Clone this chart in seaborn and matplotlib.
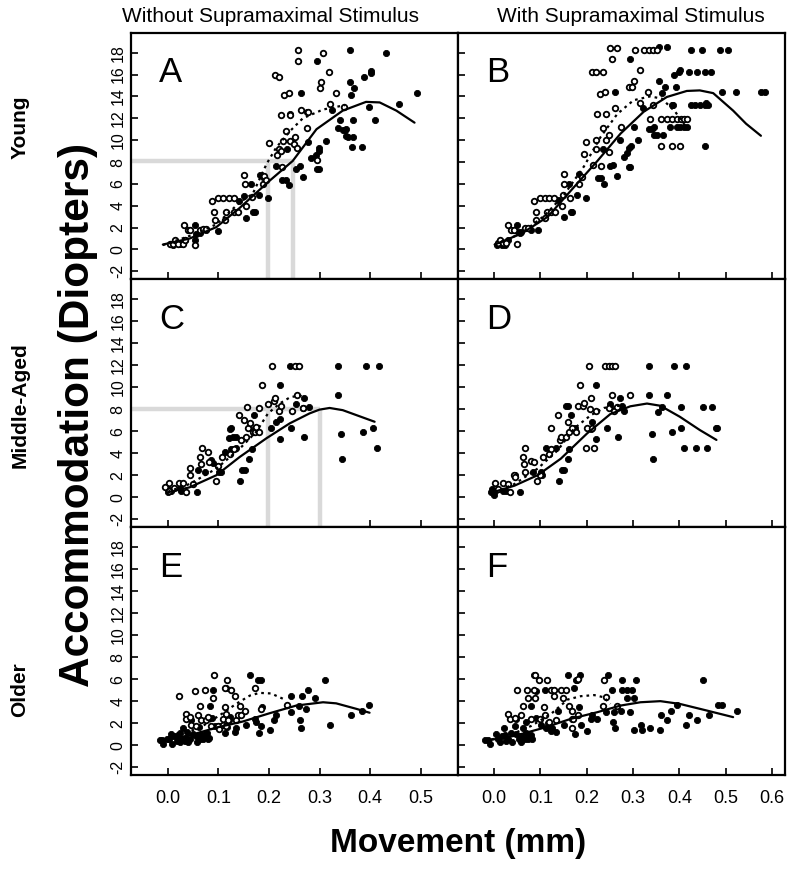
import matplotlib
matplotlib.use("Agg")
import matplotlib.pyplot as plt
import seaborn as sns
import pandas as pd

# ---------------- data ----------------
A_open = [(0.005,0.5),(0.01,0.5),(0.015,0.9),(0.02,0.5),(0.03,0.5),(0.034,0.85),(0.032,2.2),(0.04,1.75),(0.043,1.75),(0.053,0.45),(0.063,1.75),(0.069,1.9),(0.076,1.9),(0.087,4.4),(0.092,3.4),(0.094,2.7),(0.100,4.7),(0.109,4.7),(0.121,4.7),(0.130,4.7),(0.112,2.7),(0.115,3.4),(0.130,3.4),(0.139,3.4),(0.150,6.8),(0.152,6.0),(0.155,4.0),(0.166,4.8),(0.188,6.0),(0.201,9.7),(0.191,6.7),(0.195,6.4),(0.212,16.0),(0.219,15.8),(0.230,14.1),(0.239,14.3),(0.224,12.3),(0.234,10.8),(0.241,12.3),(0.228,9.9),(0.220,9.15),(0.216,8.64),(0.224,9.0),(0.226,7.5),(0.241,9.9),(0.249,9.67),(0.252,10.27),(0.255,9.3),(0.264,12.8),(0.278,12.6),(0.257,18.2),(0.257,17.25),(0.296,8.16),(0.307,18.0),(0.300,14.8),(0.302,15.3),(0.318,16.2),(0.333,14.3),(0.320,13.3),(0.348,13.05),(0.275,11.1)]
A_fill = [(0.01,0.4),(0.024,0.54),(0.034,0.9),(0.054,2.2),(0.056,1.45),(0.053,0.9),(0.063,1.5),(0.076,1.75),(0.099,1.66),(0.14,4.47),(0.15,4.9),(0.154,2.9),(0.165,6.0),(0.168,3.4),(0.172,3.4),(0.181,4.95),(0.183,6.8),(0.199,4.7),(0.188,6.6),(0.214,7.6),(0.226,6.4),(0.234,6.4),(0.239,5.9),(0.236,9.15),(0.241,12.4),(0.254,7.4),(0.261,7.6),(0.264,14.3),(0.268,6.65),(0.275,12.6),(0.277,9.85),(0.284,8.4),(0.294,8.64),(0.299,9.0),(0.296,17.25),(0.298,9.3),(0.296,7.4),(0.299,7.4),(0.313,9.9),(0.325,12.8),(0.337,11.1),(0.34,11.8),(0.346,10.9),(0.35,10.94),(0.353,11.03),(0.353,10.36),(0.356,10.33),(0.36,15.3),(0.363,14.1),(0.369,14.8),(0.366,11.8),(0.366,10.33),(0.364,9.37),(0.384,9.37),(0.361,18.25),(0.389,15.8),(0.398,13.0),(0.402,16.1),(0.402,16.3),(0.409,11.8),(0.431,18.0),(0.457,13.3),(0.493,14.3)]
A_solid = [(-0.01,0.45),(0.043,1.0),(0.096,2.05),(0.142,3.8),(0.199,6.2),(0.247,8.1),(0.294,11.0),(0.346,12.7),(0.392,13.5),(0.419,13.45),(0.452,12.7),(0.488,11.6)]
A_dot = [(-0.01,0.4),(0.043,1.24),(0.096,2.3),(0.142,4.3),(0.168,5.1),(0.195,7.8),(0.214,9.3),(0.241,10.8),(0.267,12.0),(0.307,12.8),(0.35,13.2)]
A_ref_x = [0.198, 0.247]
A_ref_y = 8.1

B_open = [(0.009,0.55),(0.012,0.9),(0.02,0.55),(0.026,0.55),(0.03,2.2),(0.036,1.75),(0.043,1.75),(0.05,0.5),(0.066,2.0),(0.073,2.0),(0.086,4.45),(0.091,3.45),(0.091,2.7),(0.098,4.7),(0.109,4.7),(0.119,4.7),(0.129,4.7),(0.109,2.9),(0.114,3.45),(0.123,3.45),(0.132,3.45),(0.148,5.0),(0.15,6.9),(0.15,6.0),(0.146,4.0),(0.164,4.7),(0.184,5.95),(0.19,6.6),(0.198,9.8),(0.194,8.7),(0.214,7.7),(0.219,9.2),(0.221,10.0),(0.228,14.2),(0.239,14.4),(0.211,16.2),(0.22,16.2),(0.235,16.2),(0.223,12.4),(0.241,12.4),(0.234,11.1),(0.242,10.0),(0.248,10.5),(0.248,8.9),(0.23,7.6),(0.251,18.4),(0.266,18.4),(0.254,17.4),(0.262,12.9),(0.273,11.2),(0.291,14.9),(0.298,14.9),(0.301,15.4),(0.305,18.2),(0.316,16.4),(0.316,13.4),(0.323,18.2),(0.334,18.2),(0.344,18.2),(0.351,18.2),(0.332,14.4),(0.337,11.9),(0.344,13.2),(0.361,11.9),(0.361,9.45),(0.373,11.9),(0.384,11.9),(0.394,11.9),(0.401,9.45),(0.404,11.95),(0.409,11.9),(0.416,11.9),(0.384,9.45)]
B_fill = [(0.007,0.45),(0.016,0.45),(0.023,0.45),(0.03,0.9),(0.05,2.2),(0.051,1.6),(0.055,1.5),(0.059,1.6),(0.079,1.75),(0.094,1.75),(0.137,4.5),(0.151,3.0),(0.162,6.0),(0.166,3.45),(0.169,3.45),(0.18,5.0),(0.184,6.9),(0.198,4.7),(0.224,6.5),(0.23,6.5),(0.237,5.95),(0.235,9.2),(0.262,14.4),(0.251,7.6),(0.257,7.7),(0.266,6.7),(0.271,10.0),(0.28,8.5),(0.287,8.8),(0.291,9.3),(0.291,7.5),(0.294,7.5),(0.293,17.4),(0.296,9.45),(0.301,11.2),(0.311,10.0),(0.321,12.9),(0.334,11.0),(0.341,11.0),(0.346,11.2),(0.346,10.5),(0.351,10.5),(0.364,10.5),(0.355,15.4),(0.362,14.3),(0.369,14.9),(0.356,18.5),(0.373,18.5),(0.379,11.2),(0.384,13.2),(0.387,13.2),(0.389,15.95),(0.393,14.9),(0.4,16.25),(0.401,16.4),(0.394,11.2),(0.401,11.2),(0.409,11.2),(0.416,11.2),(0.421,16.2),(0.437,16.2),(0.455,16.2),(0.469,16.2),(0.426,18.2),(0.448,18.2),(0.426,13.2),(0.434,13.2),(0.444,13.2),(0.455,13.2),(0.462,13.2),(0.456,9.45),(0.457,13.4),(0.487,18.2),(0.505,18.2),(0.491,14.4),(0.523,14.4),(0.576,14.4),(0.584,14.4)]
B_solid = [(0.001,0.45),(0.059,1.45),(0.116,3.0),(0.166,5.4),(0.223,8.1),(0.273,10.6),(0.323,12.6),(0.373,13.95),(0.416,14.5),(0.444,14.55),(0.473,14.3),(0.516,12.7),(0.544,11.5),(0.576,10.4)]
B_dot = [(0.001,0.4),(0.059,1.5),(0.109,3.1),(0.151,5.0),(0.194,7.6),(0.23,10.3),(0.266,12.4),(0.301,13.65),(0.337,14.0),(0.362,13.8),(0.391,12.6),(0.409,11.5),(0.424,10.9)]

C_open = [(0.003,1.3),(-0.005,0.9),(0.003,0.6),(0.013,0.8),(0.022,1.3),(0.03,1.3),(0.036,0.5),(0.043,2.65),(0.044,2.0),(0.05,1.2),(0.063,3.65),(0.066,3.05),(0.068,4.5),(0.079,4.1),(0.082,3.2),(0.096,1.5),(0.099,2.85),(0.108,3.65),(0.122,3.95),(0.13,4.4),(0.14,7.5),(0.145,5.2),(0.15,7.0),(0.155,5.5),(0.158,6.25),(0.162,6.7),(0.168,5.95),(0.173,5.9),(0.175,6.4),(0.181,5.95),(0.187,10.2),(0.181,8.1),(0.198,8.5),(0.206,11.95),(0.209,8.7),(0.211,9.0),(0.22,7.8),(0.224,8.3),(0.246,7.8),(0.251,11.95),(0.26,11.95),(0.255,9.25),(0.268,8.1),(0.157,8.2)]
C_fill = [(0.0,0.45),(0.0,0.75),(0.007,0.6),(0.023,0.8),(0.026,0.6),(0.057,0.5),(0.059,2.5),(0.073,2.3),(0.086,3.35),(0.09,3.15),(0.102,2.3),(0.106,2.3),(0.112,4.1),(0.121,5.4),(0.125,4.4),(0.128,5.5),(0.135,5.5),(0.135,4.5),(0.122,6.2),(0.125,6.25),(0.142,1.5),(0.147,2.5),(0.152,2.5),(0.16,3.5),(0.166,4.4),(0.172,6.25),(0.17,7.5),(0.175,6.1),(0.204,6.25),(0.214,6.85),(0.221,7.1),(0.222,10.2),(0.222,5.25),(0.241,11.95),(0.244,6.25),(0.254,8.5),(0.257,11.95),(0.267,8.1),(0.27,9.0),(0.27,5.45),(0.279,8.2),(0.336,9.25),(0.336,11.95),(0.343,5.75),(0.345,3.5),(0.386,5.95),(0.391,11.95),(0.406,6.3),(0.414,4.5),(0.417,11.95)]
C_solid = [(0.0,0.45),(0.043,0.9),(0.096,2.0),(0.142,3.65),(0.195,5.35),(0.241,6.7),(0.28,7.6),(0.30,7.95),(0.32,8.1),(0.346,7.9),(0.373,7.45),(0.409,6.85)]
C_dot = [(0.0,0.5),(0.043,1.2),(0.096,2.6),(0.142,4.4),(0.175,5.95),(0.198,7.6),(0.221,8.5),(0.241,9.05),(0.26,9.25),(0.274,9.0)]
C_ref_x = [0.198, 0.300]
C_ref_y = 8.0

D_open = [(0.001,1.3),(0.009,0.75),(0.019,1.3),(0.03,1.2),(0.034,0.5),(0.043,2.0),(0.046,1.8),(0.062,3.65),(0.064,3.05),(0.066,4.5),(0.067,2.3),(0.08,3.25),(0.087,3.2),(0.093,1.5),(0.1,2.05),(0.105,3.65),(0.119,3.95),(0.123,6.25),(0.123,4.4),(0.137,7.45),(0.143,5.2),(0.144,5.5),(0.155,5.5),(0.159,6.85),(0.162,5.95),(0.169,6.25),(0.176,5.95),(0.181,8.25),(0.186,10.2),(0.191,8.25),(0.194,8.55),(0.2,6.25),(0.198,4.5),(0.204,11.95),(0.209,9.0),(0.206,8.0),(0.212,6.25),(0.216,4.5),(0.219,7.8),(0.239,11.95),(0.248,11.95),(0.255,11.95),(0.262,11.95),(0.255,9.25),(0.248,8.1),(0.259,7.8),(0.266,8.15),(0.293,9.25)]
D_fill = [(-0.007,0.45),(-0.004,0.75),(0.0,0.2),(0.001,0.6),(0.019,0.6),(0.026,0.6),(0.055,0.5),(0.044,2.0),(0.084,2.3),(0.101,2.3),(0.103,2.0),(0.112,4.5),(0.134,4.5),(0.139,1.5),(0.146,2.5),(0.151,2.5),(0.159,3.5),(0.162,4.4),(0.155,8.25),(0.16,8.25),(0.166,7.5),(0.174,6.25),(0.211,6.85),(0.21,6.2),(0.221,10.2),(0.219,5.25),(0.243,6.25),(0.251,8.5),(0.25,8.2),(0.271,9.0),(0.276,8.25),(0.267,5.45),(0.281,7.8),(0.334,9.25),(0.335,11.95),(0.341,5.75),(0.343,3.5),(0.353,7.7),(0.362,8.2),(0.374,9.25),(0.385,5.95),(0.389,11.95),(0.403,8.2),(0.404,6.3),(0.411,4.5),(0.414,11.95),(0.436,4.5),(0.451,8.2),(0.459,4.5),(0.471,8.2),(0.478,6.3),(0.481,6.3)]
D_solid = [(0.001,0.5),(0.044,1.05),(0.094,2.0),(0.144,3.5),(0.201,5.8),(0.251,7.55),(0.294,8.25),(0.33,8.5),(0.359,8.3),(0.401,7.3),(0.444,6.1),(0.48,5.2)]
D_dot = [(0.001,0.45),(0.044,1.2),(0.094,2.6),(0.137,4.25),(0.173,6.25),(0.209,7.45),(0.237,8.1),(0.266,8.3),(0.28,8.2)]

E_open = [(0.021,4.45),(0.035,2.8),(0.036,2.4),(0.043,2.55),(0.046,1.85),(0.053,4.95),(0.055,1.75),(0.059,2.75),(0.063,3.6),(0.066,2.3),(0.073,5.05),(0.076,2.3),(0.079,2.55),(0.086,1.75),(0.09,4.3),(0.092,6.35),(0.099,1.75),(0.102,1.45),(0.109,1.85),(0.11,2.4),(0.112,3.45),(0.112,5.15),(0.117,5.95),(0.119,2.3),(0.125,5.0),(0.132,4.45),(0.135,2.25),(0.139,2.7),(0.143,3.6),(0.145,2.75),(0.152,3.15),(0.173,5.15),(0.185,3.3),(0.235,3.65),(0.115,1.75),(0.114,2.85)]
E_fill = [(-0.016,0.5),(-0.011,0.5),(-0.009,0.1),(-0.002,0.55),(0.003,0.55),(0.007,1.0),(0.009,0.1),(0.013,0.85),(0.018,0.4),(0.02,0.9),(0.023,0.25),(0.024,1.15),(0.028,0.55),(0.03,1.6),(0.033,0.4),(0.036,0.7),(0.038,1.2),(0.04,0.25),(0.043,0.55),(0.046,2.25),(0.049,1.0),(0.055,0.85),(0.057,0.25),(0.061,1.7),(0.063,0.55),(0.066,1.0),(0.069,0.6),(0.073,0.9),(0.077,1.15),(0.079,0.55),(0.081,0.7),(0.084,3.6),(0.088,2.45),(0.09,5.0),(0.094,1.75),(0.102,1.75),(0.112,1.1),(0.114,5.15),(0.117,1.7),(0.121,2.3),(0.122,2.55),(0.133,1.2),(0.135,1.6),(0.155,1.85),(0.162,6.35),(0.173,2.4),(0.175,2.1),(0.178,5.95),(0.185,5.95),(0.18,1.1),(0.184,1.75),(0.186,3.45),(0.203,1.4),(0.21,2.3),(0.214,2.75),(0.243,4.45),(0.244,3.0),(0.259,3.6),(0.261,2.25),(0.264,1.6),(0.265,4.45),(0.274,3.3),(0.278,5.0),(0.292,4.3),(0.31,5.95),(0.32,1.85),(0.363,2.7),(0.385,3.1),(0.398,3.65)]
E_solid = [(-0.016,0.4),(0.043,0.9),(0.096,1.6),(0.148,2.15),(0.201,2.9),(0.254,3.6),(0.307,3.9),(0.333,3.8),(0.373,3.3),(0.399,2.95)]
E_dot = [(-0.016,0.4),(0.03,1.0),(0.069,1.75),(0.102,2.7),(0.135,3.75),(0.162,4.5),(0.181,4.75),(0.204,4.7),(0.231,4.15)]

F_open = [(0.03,2.85),(0.034,2.4),(0.046,2.45),(0.05,5.0),(0.059,2.7),(0.062,3.6),(0.071,5.05),(0.073,4.3),(0.079,2.4),(0.086,5.05),(0.089,4.3),(0.089,6.35),(0.096,5.95),(0.098,2.4),(0.107,3.45),(0.11,2.7),(0.114,5.95),(0.119,2.1),(0.123,5.05),(0.13,5.05),(0.13,4.45),(0.134,2.3),(0.144,5.05),(0.148,4.3),(0.155,5.05),(0.162,3.6),(0.169,3.15),(0.169,1.6),(0.171,2.4),(0.181,6.05),(0.181,2.75),(0.234,3.6),(0.237,5.95),(0.241,4.35),(0.266,3.6)]
F_fill = [(-0.02,0.5),(-0.013,0.5),(-0.009,0.1),(0.005,1.0),(0.009,0.55),(0.012,0.25),(0.016,0.85),(0.021,1.6),(0.023,0.9),(0.026,0.4),(0.031,0.6),(0.036,1.15),(0.039,0.25),(0.044,1.75),(0.048,1.0),(0.053,0.55),(0.057,0.25),(0.059,0.85),(0.062,1.6),(0.066,0.55),(0.069,1.15),(0.074,0.55),(0.079,0.9),(0.081,0.55),(0.048,2.4),(0.069,2.1),(0.08,3.6),(0.086,6.35),(0.091,2.45),(0.091,4.9),(0.101,1.85),(0.109,5.05),(0.112,1.6),(0.117,2.0),(0.123,1.3),(0.126,1.6),(0.134,1.2),(0.137,3.15),(0.151,1.85),(0.159,6.35),(0.169,2.4),(0.172,5.2),(0.174,1.0),(0.176,5.95),(0.179,5.95),(0.184,3.45),(0.186,6.35),(0.188,1.85),(0.201,1.3),(0.209,2.4),(0.212,2.75),(0.223,2.4),(0.241,3.0),(0.246,6.35),(0.255,5.0),(0.256,2.15),(0.259,3.0),(0.262,1.6),(0.273,3.15),(0.275,5.95),(0.276,5.0),(0.287,5.0),(0.298,5.0),(0.287,4.3),(0.301,4.3),(0.294,3.0),(0.301,1.4),(0.307,5.95),(0.318,1.85),(0.319,1.4),(0.337,1.6),(0.359,1.4),(0.36,2.7),(0.373,2.25),(0.381,3.15),(0.394,3.65),(0.414,1.85),(0.421,2.7),(0.437,2.25),(0.451,5.95),(0.464,2.7),(0.484,3.65),(0.491,3.65),(0.524,3.1)]
F_solid = [(-0.02,0.4),(0.044,0.85),(0.109,1.6),(0.166,2.4),(0.223,3.0),(0.273,3.6),(0.316,3.9),(0.359,4.0),(0.401,3.75),(0.459,3.15),(0.516,2.55)]
F_dot = [(-0.02,0.4),(0.03,0.85),(0.08,1.75),(0.123,2.85),(0.159,4.15),(0.187,4.45),(0.216,4.55),(0.237,4.35),(0.251,3.75)]

panel_letters = ["A", "B", "C", "D", "E", "F"]
col_titles = ["Without Supramaximal Stimulus", "With Supramaximal Stimulus"]
row_labels = ["Young", "Middle-Aged", "Older"]
y_ticks = [-2, 0, 2, 4, 6, 8, 10, 12, 14, 16, 18]
x_ticks_left = [0.0, 0.1, 0.2, 0.3, 0.4, 0.5]
x_ticks_right = [0.0, 0.1, 0.2, 0.3, 0.4, 0.5, 0.6]
x_label = "Movement (mm)"
y_label = "Accommodation (Diopters)"

# ---------------- style ----------------
sns.set_theme(style="white")
plt.rcParams["font.family"] = ["Liberation Sans", "DejaVu Sans"]
plt.rcParams["text.color"] = "black"
plt.rcParams["axes.labelcolor"] = "black"
plt.rcParams["xtick.color"] = "black"
plt.rcParams["ytick.color"] = "black"
plt.rcParams["xtick.labelcolor"] = "black"
plt.rcParams["ytick.labelcolor"] = "black"

W, H = 800, 872
fig = plt.figure(figsize=(W / 100, H / 100), dpi=100)

col_px = [(131, 458), (458, 785)]
row_px = [(33, 279), (279, 527), (527, 775)]

panels = [
    (A_open, A_fill, A_solid, A_dot, (A_ref_x, A_ref_y)),
    (B_open, B_fill, B_solid, B_dot, None),
    (C_open, C_fill, C_solid, C_dot, (C_ref_x, C_ref_y)),
    (D_open, D_fill, D_solid, D_dot, None),
    (E_open, E_fill, E_solid, E_dot, None),
    (F_open, F_fill, F_solid, F_dot, None),
]

xlims = [(-0.073, 0.574), (-0.078, 0.628)]
ylim = (-2.7, 19.8)


def df(pairs):
    return pd.DataFrame(pairs, columns=["x", "y"])


for i, (op, fi, so, do, ref) in enumerate(panels):
    r, c = divmod(i, 2)
    x0, x1 = col_px[c]
    y0, y1 = row_px[r]
    ax = fig.add_axes([x0 / W, 1 - y1 / H, (x1 - x0) / W, (y1 - y0) / H])
    ax.set_xlim(*xlims[c])
    ax.set_ylim(*ylim)

    if ref is not None:
        rx, ry = ref
        ax.plot([xlims[c][0], max(rx)], [ry, ry], color="#d9d9d9", lw=3.2,
                solid_capstyle="butt", zorder=1)
        for xv in rx:
            ax.plot([xv, xv], [ylim[0], ry], color="#d9d9d9", lw=3.2,
                    solid_capstyle="butt", zorder=1)

    sns.lineplot(data=df(so), x="x", y="y", ax=ax, color="black", lw=1.6,
                 estimator=None, sort=False, zorder=4)
    sns.lineplot(data=df(do), x="x", y="y", ax=ax, color="black", lw=1.6,
                 estimator=None, sort=False, linestyle=(0, (1.2, 1.8)), zorder=4)
    sns.scatterplot(data=df(fi), x="x", y="y", ax=ax, color="black", s=20,
                    edgecolor="black", linewidth=0.6, zorder=3)
    sns.scatterplot(data=df(op), x="x", y="y", ax=ax, facecolor="white",
                    edgecolor="black", s=16, linewidth=1.3, zorder=3)

    ax.set_xlabel("")
    ax.set_ylabel("")
    ax.set_xticks(x_ticks_left if c == 0 else x_ticks_right)
    ax.set_yticks(y_ticks)
    ax.tick_params(direction="in", length=5, width=1.2, color="black",
                   labelcolor="black",
                   bottom=True, left=True, top=False, right=False)
    if r == 2:
        ax.set_xticklabels([f"{v:.1f}" for v in (x_ticks_left if c == 0 else x_ticks_right)],
                           fontsize=13)
        ax.tick_params(axis="x", pad=11)
    else:
        ax.tick_params(axis="x", labelbottom=False)
    if c == 0:
        ax.set_yticklabels([str(v) for v in y_ticks], rotation=90, va="center",
                           fontsize=11.5)
        ax.tick_params(axis="y", pad=4)
    else:
        ax.tick_params(axis="y", labelleft=False)
    for sp in ax.spines.values():
        sp.set_color("black")
        sp.set_linewidth(1.6)

    ax.text(0.085, 0.905, panel_letters[i], transform=ax.transAxes,
            fontsize=25, ha="left", va="top", color="black")

# column titles
for xc, t in zip([270, 631], col_titles):
    fig.text(xc / W, 1 - 17 / H, t, fontsize=15, ha="center", va="center")

# row labels
for lbl, yc in zip(row_labels, [127, 405, 690]):
    fig.text(20 / W, 1 - yc / H, lbl, fontsize=15, fontweight="bold",
             rotation=90, ha="center", va="center")

fig.text(78 / W, 1 - 415 / H, y_label, fontsize=30.5, fontweight="bold",
         rotation=90, ha="center", va="center")
fig.text(458 / W, 1 - 843 / H, x_label, fontsize=24, fontweight="bold",
         ha="center", va="center")

fig.savefig("out.png", dpi=100, facecolor="white")
